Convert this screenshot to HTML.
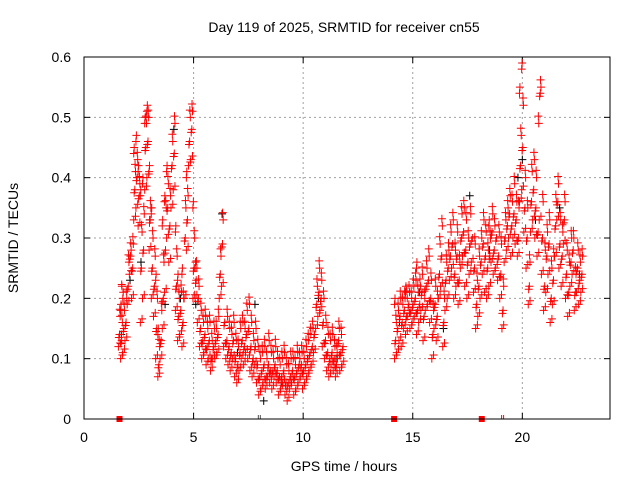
<!DOCTYPE html>
<html><head><meta charset="utf-8"><style>
body{margin:0;background:#fff}
svg{display:block;font-family:"Liberation Sans",sans-serif}
</style></head><body>
<svg id="chart" width="640" height="480" viewBox="0 0 640 480">
<rect width="640" height="480" fill="#fff"/>
<text x="344" y="32" font-size="14" text-anchor="middle">Day 119 of 2025, SRMTID for receiver cn55</text>
<text transform="translate(18,238) rotate(-90)" font-size="14" text-anchor="middle">SRMTID / TECUs</text>
<text x="344" y="471" font-size="14" text-anchor="middle">GPS time / hours</text>
<g id="grid"></g>
<g id="ticks"></g>
<g id="marks"></g>
<rect x="84" y="57" width="526" height="362" fill="none" stroke="#000" stroke-width="1"/>
</svg>
<script>
const xTicks=[0,5,10,15,20];
const yTicks=[0,0.1,0.2,0.3,0.4,0.5,0.6];
const yTickLabels=["0","0.1","0.2","0.3","0.4","0.5","0.6"];
const redTimes=[1.6,1.7,1.8,1.9,2.0,2.1,2.2,2.3,2.4,2.5,2.6,2.7,2.8,2.9,3.0,3.1,3.2,3.3,3.4,3.5,3.6,3.7,3.8,3.9,4.0,4.1,4.2,4.3,4.4,4.5,4.6,4.7,4.8,4.9,5.0,5.1,5.2,5.3,5.4,5.5,5.6,5.7,5.8,5.9,6.0,6.1,6.2,6.3,6.4,6.5,6.6,6.7,6.8,6.9,7.0,7.1,7.2,7.3,7.4,7.5,7.6,7.7,7.8,7.9,8.0,8.1,8.2,8.3,8.4,8.5,8.6,8.7,8.8,8.9,9.0,9.1,9.2,9.3,9.4,9.5,9.6,9.7,9.8,9.9,10.0,10.1,10.2,10.3,10.4,10.5,10.6,10.7,10.8,10.9,11.0,11.1,11.2,11.3,11.4,11.5,11.6,11.7,11.8,
14.2,14.3,14.4,14.5,14.6,14.7,14.8,14.9,15.0,15.1,15.2,15.3,15.4,15.5,15.6,15.7,15.8,15.9,16.0,16.1,16.2,16.3,16.4,16.5,16.6,16.7,16.8,16.9,17.0,17.1,17.2,17.3,17.4,17.5,17.6,17.7,17.8,17.9,18.0,18.1,18.2,18.3,18.4,18.5,18.6,18.7,18.8,18.9,19.0,19.1,19.2,19.3,19.4,19.5,19.6,19.7,19.8,19.9,20.0,20.1,20.2,20.3,20.4,20.5,20.6,20.7,20.8,20.9,21.0,21.1,21.2,21.3,21.4,21.5,21.6,21.7,21.8,21.9,22.0,22.1,22.2,22.3,22.4,22.5,22.6,22.7];
const redValues=[[.12,.14,.17],[.10,.13,.16,.19,.22],[.11,.15,.18,.21],[.13,.16,.2],[.19,.22,.26],[.24,.27,.28],[.2,.25,.29],[.33,.38,.41,.45],[.35,.4,.43,.47],[.32,.37,.39,.42],[.16,.25,.31,.38],[.2,.28,.34,.4],[.38,.45,.49,.5],[.4,.46,.5,.52],[.28,.33,.35,.42],[.2,.25,.3,.35],[.17,.22,.27],[.1,.15,.2,.24],[.07,.09,.12,.15],[.1,.13,.18],[.15,.2,.26,.33],[.21,.28,.35,.37],[.3,.35,.39,.42],[.26,.32,.37],[.35,.42,.46],[.38,.44,.49],[.18,.22,.27,.32],[.13,.17,.2,.24],[.14,.18,.21],[.12,.16,.2,.25],[.2,.3,.35],[.28,.33,.37,.41],[.42,.46,.5],[.43,.48,.51],[.2,.25,.3,.36],[.2,.23,.25,.26],[.16,.2,.22],[.12,.15,.18],[.1,.13,.16],[.11,.14,.17],[.09,.12,.15],[.1,.13,.16],[.08,.1,.13],[.1,.12,.15],[.1,.13,.15],[.11,.14,.17],[.2,.24,.27],[.22,.29,.33],[.12,.16],[.1,.13,.17],[.09,.12,.15],[.08,.11,.14],[.1,.13,.16],[.07,.1,.13],[.06,.09,.12],[.08,.11,.15],[.1,.13,.16],[.09,.12,.15],[.11,.14,.18],[.1,.15,.19],[.08,.12,.16],[.07,.1,.13],[.09,.12,.15],[.06,.09,.12],[.04,.07,.1],[.05,.08,.11],[.06,.09,.12],[.05,.07,.1],[.07,.09,.13],[.06,.08,.11],[.05,.08,.1],[.07,.09,.12],[.06,.08,.1],[.04,.07,.09],[.05,.07,.1],[.06,.08,.11],[.04,.06,.09],[.03,.06,.08],[.05,.07,.1],[.06,.08,.1],[.04,.07,.09],[.05,.08,.11],[.06,.09,.1],[.07,.09,.11],[.05,.08,.1],[.06,.09,.12],[.07,.1,.13],[.08,.11,.14],[.09,.12,.15],[.11,.14],[.15,.19,.22],[.17,.21,.25],[.18,.2,.23],[.12,.16,.2],[.1,.13,.16],[.08,.11,.14],[.07,.1,.13],[.09,.11,.14],[.08,.1,.12],[.07,.09,.11],[.1,.13,.15],[.08,.11,.14],[.09,.12],
[.1,.13,.16,.2],[.11,.15,.18],[.13,.17,.2],[.12,.16,.19],[.15,.18,.2],[.14,.17,.2,.22],[.17,.19,.21],[.15,.18,.2],[.16,.19,.22],[.17,.2,.23],[.14,.18,.21,.26],[.16,.19,.22],[.18,.21,.24],[.13,.17,.2],[.18,.22,.25],[.19,.23,.27],[.16,.2,.23],[.1,.14,.18],[.15,.19,.22],[.13,.17,.2],[.2,.24,.29],[.22,.27,.32],[.12,.16,.2],[.18,.23,.26],[.2,.25,.28],[.23,.27,.31],[.25,.29,.33],[.2,.24,.28],[.22,.27,.31],[.19,.23,.26],[.25,.3,.34],[.27,.31,.35],[.22,.28,.33],[.2,.26,.3],[.24,.29,.34],[.26,.3],[.21,.25,.29],[.15,.19,.23],[.17,.22,.27],[.2,.26,.3],[.24,.29,.33],[.21,.27,.31],[.2,.25,.28],[.22,.27,.3,.33],[.26,.31,.34],[.24,.28,.32],[.25,.3],[.23,.27,.31],[.2,.24,.29],[.15,.18,.22],[.26,.3,.33],[.28,.32,.35],[.3,.34,.37],[.27,.32,.36],[.3,.34,.39],[.29,.33,.36],[.27,.3,.35],[.36,.42,.47,.55],[.38,.45,.52,.59],[.31,.35,.4],[.25,.3,.35],[.19,.22,.26],[.31,.36,.41],[.33,.38,.43],[.3,.35,.4],[.27,.31,.49],[.33,.54,.55],[.24,.3,.36],[.18,.22,.28],[.21,.27,.31],[.24,.29,.33],[.16,.2,.25],[.19,.23,.27],[.27,.32,.36],[.33,.36,.39],[.25,.29,.33],[.22,.27,.31],[.29,.33,.36],[.2,.24,.28],[.17,.21,.26],[.22,.26,.3],[.24,.28,.3],[.18,.21,.24],[.21,.25,.28],[.19,.23,.26],[.21,.24,.27]];
const blackTimes=[1.7,2.1,2.6,3.0,3.7,4.1,4.4,5.1,6.3,7.0,7.8,8.2,9.0,10.2,10.7,11.5,14.4,15.3,16.4,17.6,18.5,19.8,20.0,20.6,21.7,22.6];
const blackValues=[.14,.23,.26,.33,.19,.48,.2,.19,.34,.11,.19,.03,.06,.1,.2,.1,.16,.21,.15,.37,.28,.4,.43,.33,.35,.24];
const markerTimes=[1.62,14.15,18.15];
const doubleTickTimes=[8.0,19.1];

const X0=84,X1=610,Y0=419,Y1=57;
const xs=t=>X0+(t/24)*(X1-X0);
const ys=v=>Y0-(v/0.6)*(Y0-Y1);
const NS='http://www.w3.org/2000/svg';
function mk(tag,attrs,parent){const e=document.createElementNS(NS,tag);for(const k in attrs)e.setAttribute(k,attrs[k]);parent.appendChild(e);return e;}
const grid=document.getElementById('grid'),ticks=document.getElementById('ticks'),marks=document.getElementById('marks');
xTicks.forEach(t=>{
  const x=xs(t);
  if(t>0){const g=mk('line',{x1:x,x2:x,y1:Y1,y2:Y0,stroke:'#a0a0a0','stroke-dasharray':'2,3'},grid);
  
  }
  mk('line',{x1:x,x2:x,y1:Y0,y2:Y0-6,stroke:'#000'},ticks);
  mk('line',{x1:x,x2:x,y1:Y1,y2:Y1+6,stroke:'#000'},ticks);
  const l=mk('text',{x:x,y:Y0+23,'font-size':14,'text-anchor':'middle'},ticks);l.textContent=t;
  
  
});
yTicks.forEach((v,i)=>{
  const y=ys(v);
  if(i>0&&i<yTicks.length-1){const g=mk('line',{x1:X0,x2:X1,y1:y,y2:y,stroke:'#a0a0a0','stroke-dasharray':'2,3'},grid);
  
  }
  mk('line',{x1:X0,x2:X0+6,y1:y,y2:y,stroke:'#000'},ticks);
  mk('line',{x1:X1,x2:X1-6,y1:y,y2:y,stroke:'#000'},ticks);
  const l=mk('text',{x:X0-13,y:y+5,'font-size':14,'text-anchor':'end'},ticks);l.textContent=yTickLabels[i];
  
  
});
function plus(t,v,color){
  const x=xs(t),y=ys(v);
  const p=mk('path',{d:`M${x-4} ${y}H${x+4}M${x} ${y-4}V${y+4}`,stroke:color,'stroke-width':1,fill:'none'},marks);
  
  
}
blackTimes.forEach((t,i)=>plus(t,blackValues[i],'#000'));
const dx=[-0.03,0.02,0.05,-0.01,0.03];
const dv=[0.006,-0.005,0.012,-0.01,0.003];
redTimes.forEach((t,i)=>{redValues[i].forEach((v,j)=>{
  plus(t+dx[j%5],v,'#ff0000');
  plus(t+dx[(j+2)%5],v+dv[j%5],'#ff0000');
});});
markerTimes.forEach(t=>{
  const r=mk('rect',{x:xs(t)-3,y:Y0-3,width:6,height:6,fill:'#ff0000'},marks);
  
  
});
doubleTickTimes.forEach(t=>{
  const x=xs(t);
  const p=mk('path',{d:`M${x-1} ${Y0-4}V${Y0}M${x+1} ${Y0-4}V${Y0}`,stroke:t<10?'#555':'#ff0000','stroke-width':1},marks);
  
  
});
</script>
</body></html>
